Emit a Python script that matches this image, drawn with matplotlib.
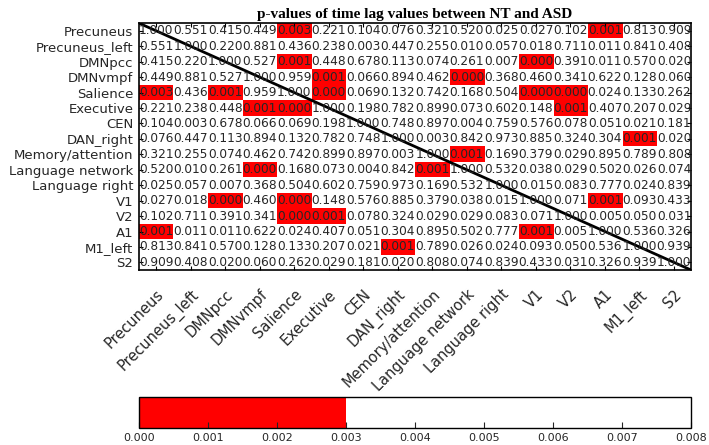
import numpy as np
import matplotlib
matplotlib.use("Agg")
import matplotlib.pyplot as plt
from matplotlib.colors import ListedColormap, BoundaryNorm

# region names (rows and columns)
regions = [
    "Precuneus", "Precuneus_left", "DMNpcc", "DMNvmpf", "Salience", "Executive",
    "CEN", "DAN_right", "Memory/attention", "Language network", "Language right",
    "V1", "V2", "A1", "M1_left", "S2",
]

# p-values (symmetric)
p_precuneus      = [1.000, 0.551, 0.415, 0.449, 0.0028, 0.221, 0.104, 0.076, 0.321, 0.520, 0.025, 0.027, 0.102, 0.001, 0.813, 0.909]
p_precuneus_left = [0.551, 1.000, 0.220, 0.881, 0.436, 0.238, 0.0032, 0.447, 0.255, 0.010, 0.057, 0.018, 0.711, 0.011, 0.841, 0.408]
p_dmnpcc         = [0.415, 0.220, 1.000, 0.527, 0.001, 0.448, 0.678, 0.113, 0.074, 0.261, 0.007, 0.000, 0.391, 0.011, 0.570, 0.020]
p_dmnvmpf        = [0.449, 0.881, 0.527, 1.000, 0.959, 0.001, 0.066, 0.894, 0.462, 0.000, 0.368, 0.460, 0.341, 0.622, 0.128, 0.060]
p_salience       = [0.0028, 0.436, 0.001, 0.959, 1.000, 0.000, 0.069, 0.132, 0.742, 0.168, 0.504, 0.000, 0.000, 0.024, 0.133, 0.262]
p_executive      = [0.221, 0.238, 0.448, 0.001, 0.000, 1.000, 0.198, 0.782, 0.899, 0.073, 0.602, 0.148, 0.001, 0.407, 0.207, 0.029]
p_cen            = [0.104, 0.0032, 0.678, 0.066, 0.069, 0.198, 1.000, 0.748, 0.897, 0.004, 0.759, 0.576, 0.078, 0.051, 0.021, 0.181]
p_dan_right      = [0.076, 0.447, 0.113, 0.894, 0.132, 0.782, 0.748, 1.000, 0.0032, 0.842, 0.973, 0.885, 0.324, 0.304, 0.001, 0.020]
p_memory         = [0.321, 0.255, 0.074, 0.462, 0.742, 0.899, 0.897, 0.0032, 1.000, 0.001, 0.169, 0.379, 0.029, 0.895, 0.789, 0.808]
p_language       = [0.520, 0.010, 0.261, 0.000, 0.168, 0.073, 0.004, 0.842, 0.001, 1.000, 0.532, 0.038, 0.029, 0.502, 0.026, 0.074]
p_language_right = [0.025, 0.057, 0.007, 0.368, 0.504, 0.602, 0.759, 0.973, 0.169, 0.532, 1.000, 0.015, 0.083, 0.777, 0.024, 0.839]
p_v1             = [0.027, 0.018, 0.000, 0.460, 0.000, 0.148, 0.576, 0.885, 0.379, 0.038, 0.015, 1.000, 0.071, 0.001, 0.093, 0.433]
p_v2             = [0.102, 0.711, 0.391, 0.341, 0.000, 0.001, 0.078, 0.324, 0.029, 0.029, 0.083, 0.071, 1.000, 0.005, 0.050, 0.031]
p_a1             = [0.001, 0.011, 0.011, 0.622, 0.024, 0.407, 0.051, 0.304, 0.895, 0.502, 0.777, 0.001, 0.005, 1.000, 0.536, 0.326]
p_m1_left        = [0.813, 0.841, 0.570, 0.128, 0.133, 0.207, 0.021, 0.001, 0.789, 0.026, 0.024, 0.093, 0.050, 0.536, 1.000, 0.939]
p_s2             = [0.909, 0.408, 0.020, 0.060, 0.262, 0.029, 0.181, 0.020, 0.808, 0.074, 0.839, 0.433, 0.031, 0.326, 0.939, 1.000]

cbar_ticks = [0.000, 0.001, 0.002, 0.003, 0.004, 0.005, 0.006, 0.007, 0.008]

pvals = np.array([
    p_precuneus, p_precuneus_left, p_dmnpcc, p_dmnvmpf, p_salience, p_executive,
    p_cen, p_dan_right, p_memory, p_language, p_language_right, p_v1, p_v2,
    p_a1, p_m1_left, p_s2,
])

# red below 0.003, white above
cmap = ListedColormap(["#ff0000"] * 3 + ["#ffffff"] * 5)
cmap.set_over("#ffffff")
norm = BoundaryNorm(cbar_ticks, cmap.N)

fig = plt.figure(figsize=(7.09, 4.45), dpi=100)
ax = fig.add_axes([0.196, 0.393, 0.779, 0.555])
cax = fig.add_axes([0.196, 0.038, 0.779, 0.070])

im = ax.imshow(pvals, cmap=cmap, norm=norm, aspect="auto", interpolation="nearest")

n = len(regions)
for i in range(n):
    for j in range(n):
        ax.text(j, i, f"{pvals[i, j]:.3f}", ha="center", va="center",
                fontsize=8.7, color="#262626")

# diagonal line
ax.plot([-0.5, n - 0.5], [-0.5, n - 0.5], color="black", lw=2)
ax.set_xlim(-0.5, n - 0.5)
ax.set_ylim(n - 0.5, -0.5)

ax.set_xticks(range(n))
ax.set_yticks(range(n))
ax.set_xticklabels(regions, rotation=45, ha="right", va="top",
                   rotation_mode="anchor", fontsize=10.5, color="#262626")
ax.set_yticklabels(regions, fontsize=9.5, color="#262626")
ax.tick_params(direction="in", length=3, top=True, right=True, pad=4)
ax.tick_params(axis="x", pad=12)
for s in ax.spines.values():
    s.set_linewidth(1.2)

ax.set_title("p-values of time lag values between NT and ASD",
             fontfamily="Liberation Serif", fontweight="bold", fontsize=11, pad=4)

cb = fig.colorbar(im, cax=cax, orientation="horizontal", ticks=cbar_ticks)
cb.ax.set_xticklabels([f"{t:.3f}" for t in cbar_ticks])
cb.ax.tick_params(direction="in", length=4, labelsize=8, colors="#262626")
cb.outline.set_linewidth(1)

fig.savefig("out.png", dpi=100)
